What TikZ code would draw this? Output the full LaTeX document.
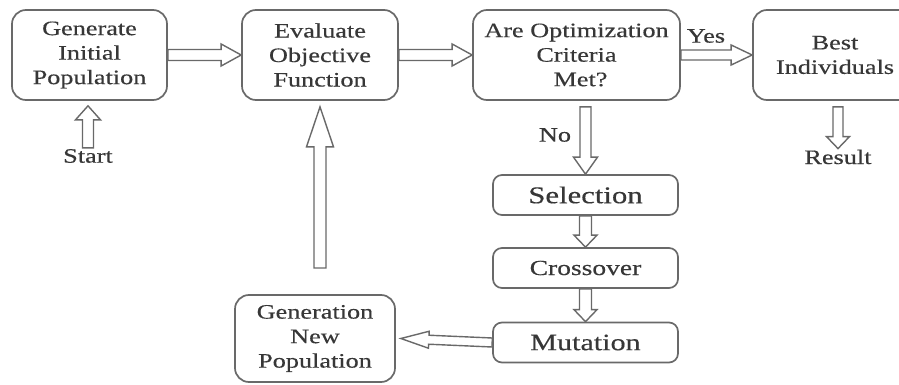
\documentclass[tikz,border=0pt]{standalone}
\usepackage{fontspec}
\setmainfont{Liberation Serif}[FakeStretch=1.28,FakeBold=0.4]
\usetikzlibrary{calc}
\definecolor{linec}{RGB}{105,105,105}
\definecolor{textc}{RGB}{55,55,55}
\tikzset{
  box/.style={draw=linec, line width=1.7pt, rounded corners=14pt, align=center,
    text=textc, font=\fontsize{20.5}{24.5}\selectfont, inner sep=0pt},
  smallbox/.style={draw=linec, line width=1.7pt, rounded corners=9pt, align=center,
    text=textc, minimum width=185pt, minimum height=40pt, inner sep=0pt},
  lbl/.style={text=textc, font=\fontsize{20.5}{24.5}\selectfont, inner sep=1pt},
  harrowline/.style={draw=linec, line width=1.4pt, fill=white, line join=miter}
}
% hollow block arrow: #1 head length, #2 head half width, #3 shaft half width, #4 from, #5 to
\newcommand\harrow[5]{%
  \path (#4) coordinate (ha) (#5) coordinate (hb);
  \path ($(hb)!#1!(ha)$) coordinate (hc);
  \draw[harrowline] ($(ha)!#3!90:(hb)$) -- ($(hc)!#3!90:(hb)$) -- ($(hc)!#2!90:(hb)$)
    -- (hb) -- ($(hc)!#2!-90:(hb)$) -- ($(hc)!#3!-90:(hb)$) -- ($(ha)!#3!-90:(hb)$) -- cycle;
}
\begin{document}
\begin{tikzpicture}[x=1pt,y=-1pt]
\useasboundingbox (0,0) rectangle (899,385);
\clip (0,0) rectangle (899,385);
\fill[white] (0,0) rectangle (899,385);

\node[box, minimum width=155pt, minimum height=90pt] (init) at (89.5,55) {Generate\\Initial\\Population};
\node[box, minimum width=156pt, minimum height=90pt] (eval) at (320,55) {Evaluate\\Objective\\Function};
\node[box, minimum width=207pt, minimum height=90pt] (crit) at (576.5,55) {Are Optimization\\Criteria\\\hspace*{8pt}Met?};
\node[box, minimum width=164pt, minimum height=90pt] (best) at (835,55) {Best\\Individuals};
\node[smallbox, font=\fontsize{24}{28}\selectfont] (sel) at (585.5,195) {Selection};
\node[smallbox, font=\fontsize{21.5}{26}\selectfont] (cross) at (585.5,268) {Crossover};
\node[smallbox, font=\fontsize{23.5}{28}\selectfont] (mut) at (585.5,342.5) {Mutation};
\node[box, minimum width=160pt, minimum height=87pt] (gen) at (315,338.5) {Generation\\New\\Population};

\node[lbl] (start) at (88,156) {Start};
\node[lbl] (result) at (838,157) {Result};
\node[lbl] (yes) at (706,36) {Yes};
\node[lbl] (no) at (555,135) {No};
\coordinate (upstart) at (320,268);

\harrow{20pt}{11pt}{5.5pt}{init.east}{eval.west}
\harrow{20pt}{11pt}{5.5pt}{eval.east}{crit.west}
\harrow{21pt}{10pt}{5pt}{crit.east}{best.west}
\harrow{14pt}{12.5pt}{5.5pt}{start.north}{$(start.north |- init.south)+(0,5)$}
\harrow{12pt}{11.5pt}{5pt}{$(result.north |- best.south)+(0,6)$}{result.north}
\harrow{17pt}{12pt}{5.5pt}{$(sel.north |- crit.south)+(0,6)$}{sel.north}
\harrow{12pt}{11.5pt}{6pt}{sel.south}{cross.north}
\harrow{12pt}{11.5pt}{6pt}{cross.south}{mut.north}
\harrow{28pt}{8.5pt}{4.5pt}{mut.west}{$(gen.east)+(5,0)$}
\harrow{40pt}{13.5pt}{6pt}{upstart}{$(eval.south)+(0,6)$}
\end{tikzpicture}
\end{document}
